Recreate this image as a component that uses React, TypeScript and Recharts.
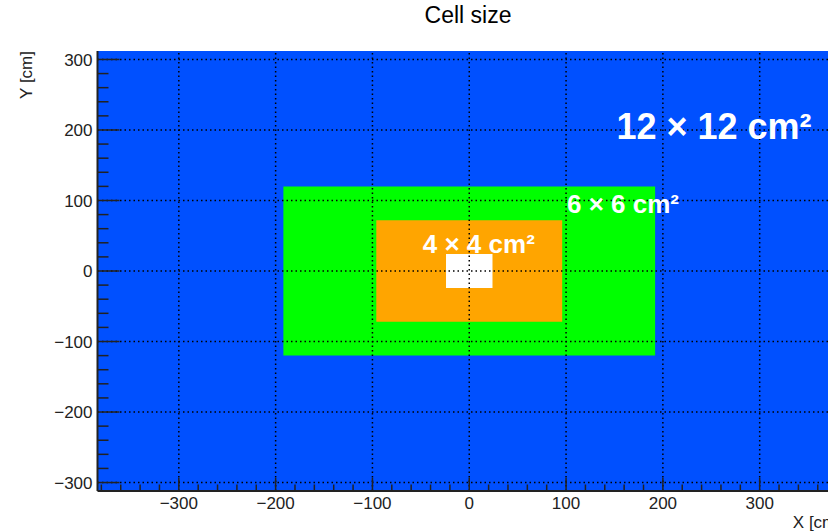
import { ComposedChart, XAxis, YAxis, ReferenceArea, ReferenceLine, ReferenceDot, Label } from 'recharts';

// Calorimeter zones, outermost first: half-widths and half-heights in cm
const ZONE_X_HALF = [384, 192, 96, 24];
const ZONE_Y_HALF = [312, 120, 72, 24];
const ZONE_FILLS = ['#0050ff', '#00ff00', '#ffa500', '#ffffff'];

// Cell size annotations (anchor = left end of baseline, in cm)
const CELL_LABELS = ['12 × 12 cm²', '6 × 6 cm²', '4 × 4 cm²'];
const CELL_LABEL_X = [152, 101, -48];
const CELL_LABEL_Y = [187, 82, 25];
const CELL_LABEL_SIZE = [36, 26, 26];

const X_TICKS = Array.from({ length: 39 }, (_, i) => -380 + i * 20);
const Y_TICKS = Array.from({ length: 31 }, (_, i) => -300 + i * 20);
const GRID_X = [-300, -200, -100, 0, 100, 200, 300];
const GRID_Y = [-300, -200, -100, 0, 100, 200, 300];

const FONT = '"Liberation Sans", Arial, Helvetica, sans-serif';
const INK = '#222';

const fmt = (v: number) => (v < 0 ? '\u2212' + Math.abs(v) : String(v));

const YTick = (props: any) => {
  const { x, y, payload } = props;
  const major = payload.value % 100 === 0;
  return (
    <g>
      <line x1={x} x2={x + (major ? 22 : 11)} y1={y} y2={y} stroke={INK} strokeWidth={1.5} />
      {major && (
        <text x={x - 5} y={y} dy="0.36em" textAnchor="end" fontSize={17} fontFamily={FONT} fill={INK}>
          {fmt(payload.value)}
        </text>
      )}
    </g>
  );
};

const XTick = (props: any) => {
  const { x, y, payload } = props;
  const major = payload.value % 100 === 0;
  return (
    <g>
      <line x1={x} x2={x} y1={y} y2={y - (major ? 13 : 6.5)} stroke={INK} strokeWidth={1.5} />
      {major && (
        <text x={x} y={y + 18} textAnchor="middle" fontSize={17} fontFamily={FONT} fill={INK}>
          {fmt(payload.value)}
        </text>
      )}
    </g>
  );
};

const XTitle = (props: any) => {
  const vb = props.viewBox || {};
  return (
    <text x={vb.x + vb.width} y={vb.y + 37} textAnchor="end" fontSize={17} fontFamily={FONT} fill={INK}>
      X [cm]
    </text>
  );
};

const YTitle = (props: any) => {
  const vb = props.viewBox || {};
  const x = 25.5;
  const y = vb.y;
  return (
    <text
      x={x}
      y={y}
      dy="0.36em"
      textAnchor="end"
      transform={`rotate(-90 ${x} ${y})`}
      fontSize={17}
      fontFamily={FONT}
      fill={INK}
    >
      Y [cm]
    </text>
  );
};

export default function App() {
  return (
    <div
      style={{
        position: 'fixed',
        left: 0,
        top: 0,
        width: 828,
        height: 532,
        overflow: 'hidden',
        background: '#fff',
      }}
    >
      <svg width={828} height={40} style={{ position: 'absolute', left: 0, top: 0 }}>
        <text x={468} y={23} textAnchor="middle" fontSize={23} fontFamily={FONT} fill="#000">
          Cell size
        </text>
      </svg>
      <ComposedChart width={841} height={532} margin={{ top: 51, right: 0, bottom: 0, left: 0 }} data={[]}>
        <XAxis
          type="number"
          dataKey="x"
          domain={[-384, 384]}
          allowDataOverflow
          ticks={X_TICKS}
          interval={0}
          height={41}
          tickSize={0}
          tickMargin={0}
          tickLine={false}
          axisLine={{ stroke: INK, strokeWidth: 2 }}
          tick={<XTick />}
        >
          <Label content={<XTitle />} />
        </XAxis>
        <YAxis
          type="number"
          dataKey="y"
          domain={[-312, 312]}
          allowDataOverflow
          ticks={Y_TICKS}
          interval={0}
          width={97.5}
          tickSize={0}
          tickMargin={0}
          tickLine={false}
          axisLine={{ stroke: INK, strokeWidth: 2 }}
          tick={<YTick />}
        >
          <Label content={<YTitle />} />
        </YAxis>
        {ZONE_X_HALF.map((hx, i) => (
          <ReferenceArea
            key={`zone-${i}`}
            x1={-hx}
            x2={hx}
            y1={-ZONE_Y_HALF[i]}
            y2={ZONE_Y_HALF[i]}
            fill={ZONE_FILLS[i]}
            fillOpacity={1}
            stroke="none"
            ifOverflow="visible"
          />
        ))}
        {GRID_X.map((v) => (
          <ReferenceLine key={`gx${v}`} x={v} stroke="#000" strokeWidth={1.5} strokeDasharray="1.5 3" />
        ))}
        {GRID_Y.map((v) => (
          <ReferenceLine key={`gy${v}`} y={v} stroke="#000" strokeWidth={1.5} strokeDasharray="1.5 3" />
        ))}
        {CELL_LABELS.map((txt, i) => (
          <ReferenceDot
            key={`lbl-${i}`}
            x={CELL_LABEL_X[i]}
            y={CELL_LABEL_Y[i]}
            r={0}
            shape={(p: any) => (
              <text
                x={p.cx}
                y={p.cy}
                fontSize={CELL_LABEL_SIZE[i]}
                fontWeight="bold"
                fontFamily={FONT}
                fill="#fff"
              >
                {txt}
              </text>
            )}
          />
        ))}
      </ComposedChart>
    </div>
  );
}
